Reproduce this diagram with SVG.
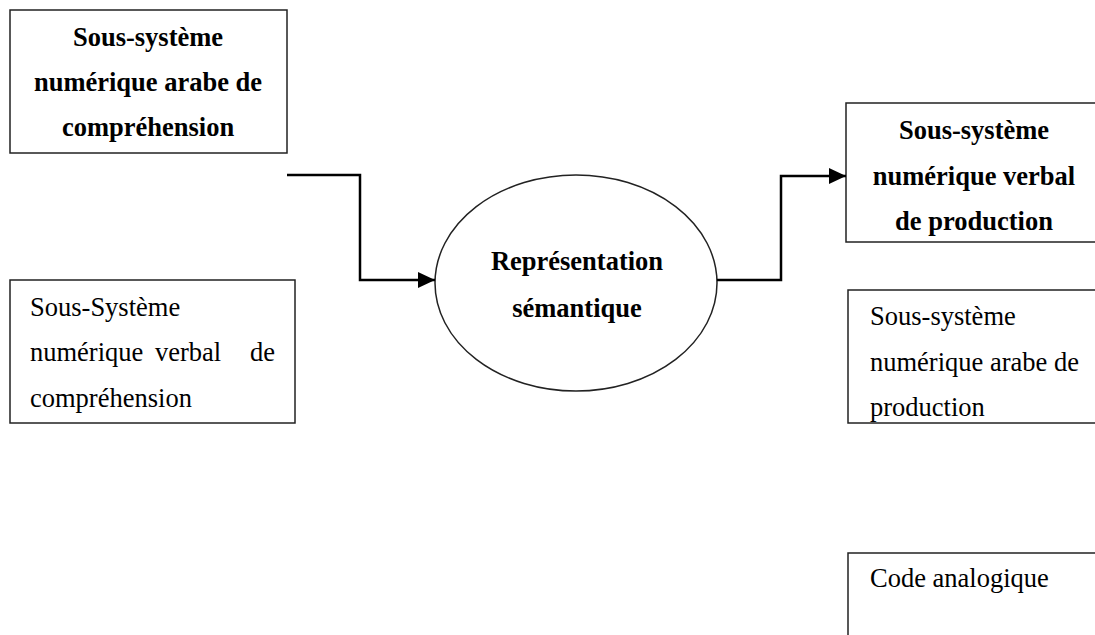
<svg xmlns="http://www.w3.org/2000/svg" width="1095" height="635" viewBox="0 0 1095 635">
<style>
.box{fill:#fff;stroke:#222;stroke-width:1.5}
.b{font-family:"Liberation Serif",serif;font-size:26.5px;font-weight:bold;fill:#000;text-anchor:middle}
.r{font-family:"Liberation Serif",serif;font-size:26.5px;fill:#000}
.con{fill:none;stroke:#000;stroke-width:2.5}
</style>
<defs>
<marker id="ah" markerUnits="userSpaceOnUse" markerWidth="18" markerHeight="16" refX="17" refY="8" orient="auto">
<path d="M0,0 L17,8 L0,16 Z" fill="#000"/>
</marker>
</defs>
<rect width="1095" height="635" fill="#fff"/>
<g id="n1">
<rect class="box" x="10" y="10" width="277" height="143"/>
<text class="b" x="148" y="46">Sous-système</text>
<text class="b" x="148" y="91">numérique arabe de</text>
<text class="b" x="148" y="136">compréhension</text>
</g>
<g id="n2">
<rect class="box" x="10" y="280" width="285" height="143"/>
<text class="r" x="30" y="316">Sous-Système</text>
<text class="r" x="30" y="361">numérique</text>
<text class="r" x="155" y="361">verbal</text>
<text class="r" x="275" y="361" text-anchor="end">de</text>
<text class="r" x="30" y="407">compréhension</text>
</g>
<g id="n3">
<ellipse class="box" cx="576" cy="283" rx="141" ry="108"/>
<text class="b" x="577" y="270">Représentation</text>
<text class="b" x="577" y="317">sémantique</text>
</g>
<g id="n4">
<rect class="box" x="846" y="103" width="260" height="139"/>
<text class="b" x="974" y="139">Sous-système</text>
<text class="b" x="974" y="185">numérique verbal</text>
<text class="b" x="974" y="230">de production</text>
</g>
<g id="n5">
<rect class="box" x="848" y="290" width="260" height="133"/>
<text class="r" x="870" y="325">Sous-système</text>
<text class="r" x="870" y="371">numérique arabe de</text>
<text class="r" x="870" y="416">production</text>
</g>
<g id="n6">
<rect class="box" x="848" y="553" width="260" height="100"/>
<text class="r" x="870" y="587">Code analogique</text>
</g>
<g id="connectors">
<path class="con" d="M287,175 H360 V280 H435" marker-end="url(#ah)"/>
<path class="con" d="M717,280 H781 V176 H846" marker-end="url(#ah)"/>
</g>
</svg>
